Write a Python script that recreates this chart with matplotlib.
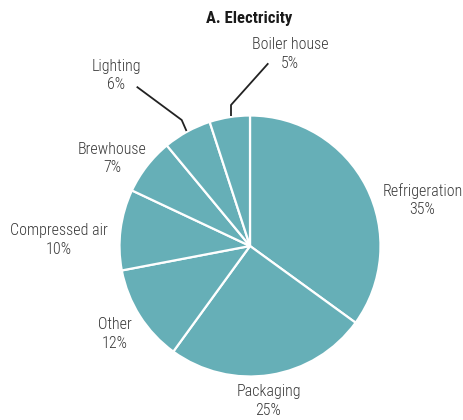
import matplotlib
matplotlib.use("Agg")
import matplotlib.pyplot as plt
from matplotlib import font_manager

categories = ["Refrigeration", "Packaging", "Other", "Compressed air",
              "Brewhouse", "Lighting", "Boiler house"]
values = [35, 25, 12, 10, 7, 6, 5]
title = "A. Electricity"

names = {f.name for f in font_manager.fontManager.ttflist}
fam = "DejaVu Sans"
for cand in ["Roboto Condensed", "Archivo Narrow", "PT Sans Narrow",
             "Barlow Semi Condensed", "Asap Condensed"]:
    if cand in names:
        fam = cand
        break
plt.rcParams['font.family'] = [fam, 'DejaVu Sans']

W, H = 463, 420
CX, CY, R = 250, 246, 130.5

fig = plt.figure(figsize=(W / 100, H / 100), dpi=100)
ax = fig.add_axes([0, 0, 1, 1])
ax.axis("off")


def p(px, py):
    return ((px - CX) / R, (CY - py) / R)


ax.pie(values, startangle=90, counterclock=False, colors=["#66afb7"] * len(values),
       wedgeprops=dict(edgecolor="white", linewidth=1.6), radius=1.0, center=(0, 0))
ax.set_xlim(-CX / R, (W - CX) / R)
ax.set_ylim(-(H - CY) / R, CY / R)

txt = "#3a3a3a"
fs = 11.5
label_px = {
    "Refrigeration": (422.5, 200),
    "Packaging": (268.5, 401),
    "Other": (115, 334),
    "Compressed air": (58.5, 240),
    "Brewhouse": (112.5, 158.5),
    "Lighting": (116, 75.5),
    "Boiler house": (290, 54),
}
for c, v in zip(categories, values):
    x, y = p(*label_px[c])
    ax.text(x, y, f"{c}\n{v}%", ha="center", va="center", fontsize=fs,
            color=txt, linespacing=1.32, fontweight="light")

# leader lines
for pts in ([(136.7, 86.7), (181.7, 120), (186.5, 131)],
            [(268.3, 63.3), (231, 105), (231, 116)]):
    xs, ys = zip(*[p(*q) for q in pts])
    ax.plot(xs, ys, color="#222222", lw=1.3, solid_capstyle="butt")

tx, ty = p(249.5, 18.5)
ax.text(tx, ty, title, ha="center", va="center", fontsize=12, fontweight="bold",
        color="#1a1a1a")

fig.savefig("out.png", dpi=100)
